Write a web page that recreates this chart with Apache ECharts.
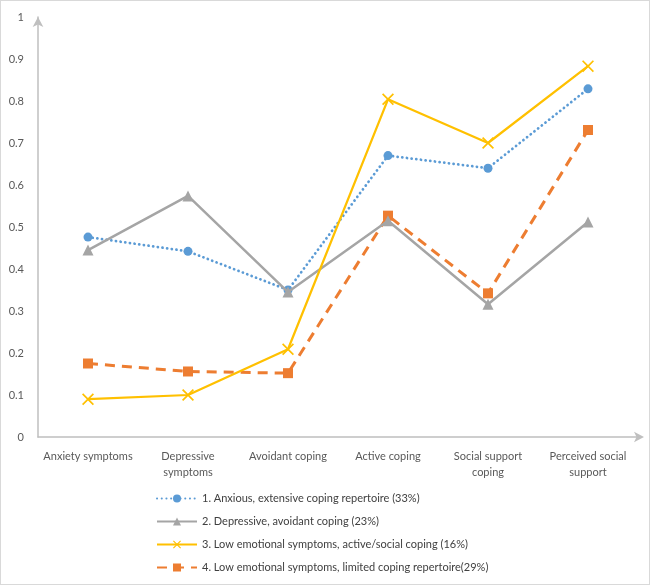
<!DOCTYPE html>
<html lang="en">
<head>
    <meta charset="UTF-8">
    <title>Coping profiles</title>
    <script src="https://cdn.jsdelivr.net/npm/echarts@6/dist/echarts.min.js"></script>
    <style>
        html, body { margin: 0; padding: 0; background: #fff; }
        #chart1 { position: absolute; left: 0; top: 0; width: 648px; height: 583px; border: 1px solid #d9d9d9; }
    </style>
</head>
<body>
<div id="chart1"></div>
<script type="text/javascript">
    // 数据
    var categories = ['Anxiety symptoms', 'Depressive\nsymptoms', 'Avoidant coping', 'Active coping', 'Social support\ncoping', 'Perceived social\nsupport'];
    var yTicks = [0, 0.1, 0.2, 0.3, 0.4, 0.5, 0.6, 0.7, 0.8, 0.9, 1];
    var names = [
        '1. Anxious, extensive coping repertoire (33%)',
        '2. Depressive, avoidant coping (23%)',
        '3. Low emotional symptoms, active/social coping (16%)',
        '4. Low emotional symptoms, limited coping repertoire(29%)'
    ];
    var anxious = [0.476, 0.442, 0.35, 0.67, 0.64, 0.829];
    var depressive = [0.445, 0.574, 0.345, 0.515, 0.316, 0.512];
    var lowActive = [0.09, 0.10, 0.209, 0.804, 0.70, 0.883];
    var lowLimited = [0.175, 0.156, 0.152, 0.527, 0.342, 0.731];

    var crossPath = 'path://M0,1 L1,0 L5,4 L9,0 L10,1 L6,5 L10,9 L9,10 L5,6 L1,10 L0,9 L4,5 Z';
    var font = 'Lato, "Open Sans", sans-serif';

    var myChart1 = echarts.init(document.getElementById('chart1'));
    myChart1.setOption({
        animation: false,
        grid: { left: 37, right: 11, top: 16, height: 420 },
        legend: {
            orient: 'vertical',
            left: 150,
            top: 487,
            itemGap: 12,
            itemWidth: 40,
            itemHeight: 10,
            textStyle: { fontFamily: font, fontSize: 11, color: '#404040' },
            data: names
        },
        xAxis: {
            type: 'category',
            data: categories,
            boundaryGap: true,
            axisLine: { lineStyle: { color: '#bfbfbf', width: 1.5 }, symbol: ['none', 'arrow'], symbolSize: [8, 10], symbolOffset: [0, 6] },
            axisTick: { show: false },
            axisLabel: { fontFamily: font, fontSize: 11, color: '#595959', margin: 11, lineHeight: 16, interval: 0 }
        },
        yAxis: {
            type: 'value',
            min: 0,
            max: 1,
            interval: 0.1,
            splitLine: { show: false },
            axisLine: { show: true, lineStyle: { color: '#bfbfbf', width: 1.5 }, symbol: ['none', 'arrow'], symbolSize: [8, 10] },
            axisTick: { show: false },
            axisLabel: {
                fontFamily: font, fontSize: 11, color: '#595959', margin: 14,
                formatter: function (v) { return yTicks.indexOf(Math.round(v * 10) / 10) >= 0 ? String(Math.round(v * 10) / 10) : ''; }
            }
        },
        series: [{
            name: names[0],
            type: 'line',
            data: anxious,
            symbol: 'circle',
            symbolSize: 9,
            itemStyle: { color: '#5b9bd5' },
            lineStyle: { color: '#5b9bd5', width: 2.75, type: [0.1, 4.6], cap: 'round' },
            z: 3
        }, {
            name: names[1],
            type: 'line',
            data: depressive,
            symbol: 'triangle',
            symbolSize: 11,
            itemStyle: { color: '#a5a5a5' },
            lineStyle: { color: '#a5a5a5', width: 2.5 },
            z: 4
        }, {
            name: names[2],
            type: 'line',
            data: lowActive,
            symbol: crossPath,
            symbolSize: 12,
            itemStyle: { color: '#ffc000' },
            lineStyle: { color: '#ffc000', width: 2.25 },
            z: 5
        }, {
            name: names[3],
            type: 'line',
            data: lowLimited,
            symbol: 'rect',
            symbolSize: 10,
            itemStyle: { color: '#ed7d31' },
            lineStyle: { color: '#ed7d31', width: 3, type: [10, 7] },
            z: 2
        }]
    });
</script>
</body>
</html>
